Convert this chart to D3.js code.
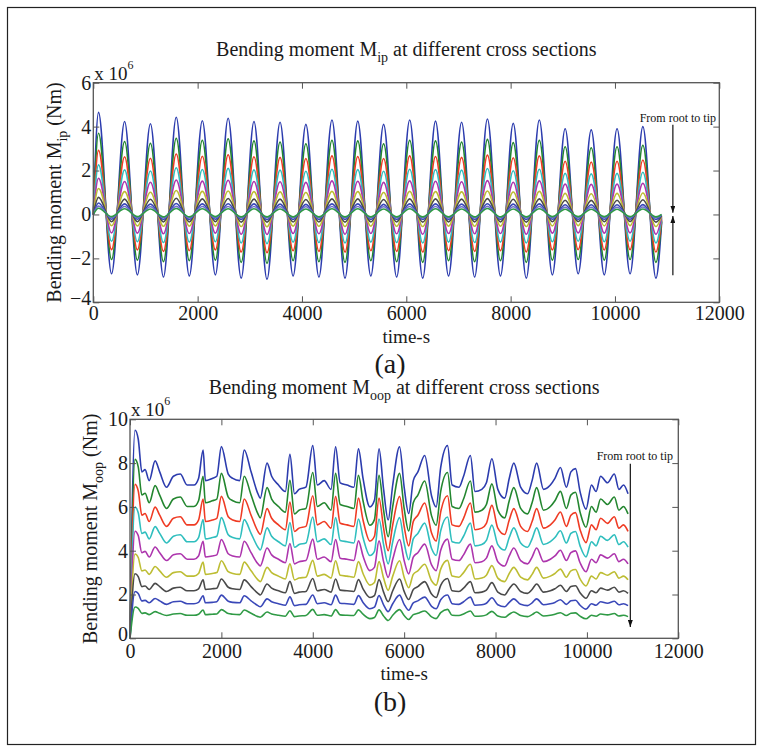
<!DOCTYPE html>
<html>
<head>
<meta charset="utf-8">
<script src="https://cdn.jsdelivr.net/npm/d3@7"></script>
<style>
  body { margin: 0; background: #fff; }
  svg { display: block; }
</style>
</head>
<body>
<div id="chart"></div>
<script>
// ---------- (a) in-plane bending moment, x 10^6 Nm ----------
// sample times: start, then peak / trough pairs, then end
const timeA = [0, 100, 350, 600, 845, 1095, 1345, 1590, 1840, 2090, 2340, 2585, 2835, 3080, 3330,
  3580, 3830, 4075, 4325, 4575, 4825, 5070, 5320, 5565, 5815, 6065, 6315, 6560, 6810, 7060, 7310,
  7555, 7805, 8050, 8300, 8550, 8800, 9045, 9295, 9545, 9795, 10040, 10290, 10535, 10785, 10895];

const mip1 = [0, 4.65, -2.7, 4.23, -2.75, 4.13, -2.85, 4.43, -2.8, 4.27, -2.75, 4.38, -2.9, 4.23, -2.95,
  4.2, -2.8, 4.1, -2.85, 4.3, -2.9, 4.25, -2.8, 4.1, -2.85, 4.3, -2.9, 4.25, -2.8, 4.2, -2.85,
  4.35, -2.8, 4.15, -2.9, 4.3, -2.75, 3.9, -2.7, 3.85, -2.75, 3.9, -2.7, 4.0, -2.9, -0.35];
const mip2 = [0, 3.7, -2.05, 3.32, -2.08, 3.24, -2.15, 3.47, -2.1, 3.38, -2.08, 3.45, -2.18, 3.35, -2.22,
  3.3, -2.1, 3.22, -2.15, 3.38, -2.18, 3.35, -2.1, 3.22, -2.15, 3.38, -2.18, 3.35, -2.1, 3.3, -2.15,
  3.42, -2.1, 3.27, -2.18, 3.38, -2.08, 3.08, -2.05, 3.04, -2.08, 3.08, -2.05, 3.15, -2.18, -0.28];
const mip3 = [0, 2.92, -1.6, 2.63, -1.62, 2.56, -1.68, 2.75, -1.65, 2.65, -1.62, 2.72, -1.71, 2.63, -1.74,
  2.6, -1.65, 2.55, -1.68, 2.67, -1.71, 2.64, -1.65, 2.55, -1.68, 2.67, -1.71, 2.64, -1.65, 2.6, -1.68,
  2.7, -1.65, 2.58, -1.71, 2.67, -1.62, 2.42, -1.6, 2.39, -1.62, 2.42, -1.6, 2.48, -1.71, -0.22];
const mip4 = [0, 2.26, -1.22, 2.03, -1.24, 1.98, -1.28, 2.13, -1.26, 2.05, -1.24, 2.1, -1.3, 2.03, -1.33,
  2.02, -1.26, 1.97, -1.28, 2.06, -1.3, 2.04, -1.26, 1.97, -1.28, 2.06, -1.3, 2.04, -1.26, 2.02, -1.28,
  2.09, -1.26, 1.99, -1.3, 2.06, -1.24, 1.87, -1.22, 1.85, -1.24, 1.87, -1.22, 1.92, -1.3, -0.17];
const mip5 = [0, 1.65, -0.84, 1.5, -0.85, 1.47, -0.88, 1.57, -0.87, 1.52, -0.85, 1.56, -0.9, 1.5, -0.91,
  1.49, -0.87, 1.46, -0.88, 1.53, -0.9, 1.51, -0.87, 1.46, -0.88, 1.53, -0.9, 1.51, -0.87, 1.49, -0.88,
  1.54, -0.87, 1.47, -0.9, 1.53, -0.85, 1.38, -0.84, 1.37, -0.85, 1.38, -0.84, 1.42, -0.9, -0.12];
const mip6 = [0, 1.18, -0.51, 1.04, -0.52, 1.01, -0.54, 1.09, -0.53, 1.05, -0.52, 1.07, -0.55, 1.04, -0.56,
  1.03, -0.53, 1.0, -0.54, 1.05, -0.55, 1.04, -0.53, 1.0, -0.54, 1.05, -0.55, 1.04, -0.53, 1.03, -0.54,
  1.07, -0.53, 1.02, -0.55, 1.05, -0.52, 0.96, -0.51, 0.94, -0.52, 0.96, -0.51, 0.98, -0.55, -0.08];
const mip7 = [0, 0.78, -0.33, 0.7, -0.33, 0.69, -0.34, 0.74, -0.34, 0.71, -0.33, 0.73, -0.35, 0.7, -0.35,
  0.7, -0.34, 0.68, -0.34, 0.71, -0.35, 0.71, -0.34, 0.68, -0.34, 0.71, -0.35, 0.71, -0.34, 0.7, -0.34,
  0.72, -0.34, 0.69, -0.35, 0.71, -0.33, 0.65, -0.32, 0.64, -0.33, 0.65, -0.32, 0.67, -0.35, -0.05];
const mip8 = [0, 0.52, -0.22, 0.48, -0.22, 0.47, -0.23, 0.5, -0.23, 0.48, -0.22, 0.49, -0.23, 0.48, -0.24,
  0.47, -0.23, 0.46, -0.23, 0.48, -0.23, 0.48, -0.23, 0.46, -0.23, 0.48, -0.23, 0.48, -0.23, 0.47, -0.23,
  0.49, -0.23, 0.47, -0.23, 0.48, -0.22, 0.44, -0.22, 0.44, -0.22, 0.44, -0.22, 0.45, -0.23, -0.03];
const mip9 = [0, 0.38, -0.15, 0.36, -0.15, 0.35, -0.16, 0.37, -0.16, 0.36, -0.15, 0.36, -0.16, 0.36, -0.16,
  0.35, -0.16, 0.35, -0.16, 0.36, -0.16, 0.36, -0.16, 0.35, -0.16, 0.36, -0.16, 0.36, -0.16, 0.35, -0.16,
  0.37, -0.16, 0.35, -0.16, 0.36, -0.15, 0.33, -0.15, 0.33, -0.15, 0.33, -0.15, 0.34, -0.16, -0.02];
const mip10 = [0, 0.28, -0.1, 0.26, -0.1, 0.25, -0.11, 0.27, -0.11, 0.26, -0.1, 0.26, -0.11, 0.26, -0.11,
  0.25, -0.11, 0.25, -0.11, 0.26, -0.11, 0.26, -0.11, 0.25, -0.11, 0.26, -0.11, 0.26, -0.11, 0.25, -0.11,
  0.27, -0.11, 0.25, -0.11, 0.26, -0.1, 0.24, -0.1, 0.24, -0.1, 0.24, -0.1, 0.25, -0.11, 0.0];

// ---------- (b) out-of-plane bending moment, x 10^6 Nm ----------
const timeB = [0, 110, 180, 260, 330, 420, 550, 650, 800, 950,
  1100, 1250, 1400, 1500, 1600, 1650, 1800, 1900, 2000, 2150,
  2250, 2400, 2500, 2650, 2800, 2850, 3000, 3100, 3250, 3400,
  3500, 3600, 3700, 3850, 4000, 4100, 4250, 4400, 4500, 4600,
  4750, 4900, 5000, 5100, 5250, 5350, 5450, 5550, 5650, 5750,
  5900, 6000, 6100, 6200, 6300, 6450, 6600, 6700, 6800, 6950,
  7050, 7200, 7300, 7450, 7550, 7700, 7800, 7920, 8050, 8200,
  8300, 8400, 8550, 8700, 8800, 8900, 9050, 9200, 9300, 9420,
  9550, 9650, 9750, 9850, 9980, 10100, 10200, 10300, 10450, 10600,
  10700, 10800, 10900];

const moop1 = [0, 9.5, 9.1, 7.6, 7.7, 7.2, 8.1, 7.6, 6.9, 7.4,
  7.5, 7.0, 7.0, 7.3, 8.6, 7.2, 7.3, 7.4, 8.75, 7.5,
  7.3, 7.2, 8.6, 7.6, 6.6, 6.4, 8.0, 7.4, 7.0, 6.7,
  8.4, 6.6, 6.8, 6.9, 8.8, 7.0, 7.2, 6.8, 8.75, 7.1,
  7.0, 6.9, 8.65, 7.3, 6.0, 6.3, 8.65, 6.8, 5.4, 7.0,
  8.75, 6.9, 5.7, 7.2, 7.6, 8.35, 6.5, 6.0, 7.8, 8.8,
  7.0, 6.9, 7.4, 8.35, 6.7, 6.8, 7.1, 8.2, 6.8, 6.4,
  7.3, 8.0, 6.9, 6.6, 7.2, 8.0, 6.8, 7.0, 7.3, 7.8,
  6.9, 7.6, 7.75, 6.7, 5.9, 7.0, 6.7, 7.4, 7.1, 7.5,
  6.8, 7.0, 6.6];
const moop2 = [0, 8.17, 7.83, 6.54, 6.62, 6.19, 6.97, 6.54, 5.93, 6.36,
  6.45, 6.02, 6.02, 6.28, 7.40, 6.19, 6.28, 6.36, 7.53, 6.45,
  6.28, 6.19, 7.40, 6.54, 5.68, 5.50, 6.88, 6.36, 6.02, 5.76,
  7.22, 5.68, 5.85, 5.93, 7.57, 6.02, 6.19, 5.85, 7.53, 6.11,
  6.02, 5.93, 7.44, 6.28, 5.16, 5.42, 7.44, 5.85, 4.64, 6.02,
  7.53, 5.93, 4.90, 6.19, 6.54, 7.18, 5.59, 5.16, 6.71, 7.57,
  6.02, 5.93, 6.36, 7.18, 5.76, 5.85, 6.11, 7.05, 5.85, 5.50,
  6.28, 6.88, 5.93, 5.68, 6.19, 6.88, 5.85, 6.02, 6.28, 6.71,
  5.93, 6.54, 6.67, 5.76, 5.07, 6.02, 5.76, 6.36, 6.11, 6.45,
  5.85, 6.02, 5.68];
const moop3 = [0, 7.03, 6.73, 5.62, 5.70, 5.33, 5.99, 5.62, 5.11, 5.48,
  5.55, 5.18, 5.18, 5.40, 6.36, 5.33, 5.40, 5.48, 6.48, 5.55,
  5.40, 5.33, 6.36, 5.62, 4.88, 4.74, 5.92, 5.48, 5.18, 4.96,
  6.22, 4.88, 5.03, 5.11, 6.51, 5.18, 5.33, 5.03, 6.48, 5.25,
  5.18, 5.11, 6.40, 5.40, 4.44, 4.66, 6.40, 5.03, 4.00, 5.18,
  6.48, 5.11, 4.22, 5.33, 5.62, 6.18, 4.81, 4.44, 5.77, 6.51,
  5.18, 5.11, 5.48, 6.18, 4.96, 5.03, 5.25, 6.07, 5.03, 4.74,
  5.40, 5.92, 5.11, 4.88, 5.33, 5.92, 5.03, 5.18, 5.40, 5.77,
  5.11, 5.62, 5.74, 4.96, 4.37, 5.18, 4.96, 5.48, 5.25, 5.55,
  5.03, 5.18, 4.88];
const moop4 = [0, 5.99, 5.73, 4.79, 4.85, 4.54, 5.10, 4.79, 4.35, 4.66,
  4.73, 4.41, 4.41, 4.60, 5.42, 4.54, 4.60, 4.66, 5.51, 4.73,
  4.60, 4.54, 5.42, 4.79, 4.16, 4.03, 5.04, 4.66, 4.41, 4.22,
  5.29, 4.16, 4.28, 4.35, 5.54, 4.41, 4.54, 4.28, 5.51, 4.47,
  4.41, 4.35, 5.45, 4.60, 3.78, 3.97, 5.45, 4.28, 3.40, 4.41,
  5.51, 4.35, 3.59, 4.54, 4.79, 5.26, 4.10, 3.78, 4.91, 5.54,
  4.41, 4.35, 4.66, 5.26, 4.22, 4.28, 4.47, 5.17, 4.28, 4.03,
  4.60, 5.04, 4.35, 4.16, 4.54, 5.04, 4.28, 4.41, 4.60, 4.91,
  4.35, 4.79, 4.88, 4.22, 3.72, 4.41, 4.22, 4.66, 4.47, 4.73,
  4.28, 4.41, 4.16];
const moop5 = [0, 4.89, 4.69, 3.91, 3.97, 3.71, 4.17, 3.91, 3.55, 3.81,
  3.86, 3.61, 3.61, 3.76, 4.43, 3.71, 3.76, 3.81, 4.51, 3.86,
  3.76, 3.71, 4.43, 3.91, 3.40, 3.30, 4.12, 3.81, 3.61, 3.45,
  4.33, 3.40, 3.50, 3.55, 4.53, 3.61, 3.71, 3.50, 4.51, 3.66,
  3.61, 3.55, 4.45, 3.76, 3.09, 3.24, 4.45, 3.50, 2.78, 3.61,
  4.51, 3.55, 2.94, 3.71, 3.91, 4.30, 3.35, 3.09, 4.02, 4.53,
  3.61, 3.55, 3.81, 4.30, 3.45, 3.50, 3.66, 4.22, 3.50, 3.30,
  3.76, 4.12, 3.55, 3.40, 3.71, 4.12, 3.50, 3.61, 3.76, 4.02,
  3.55, 3.91, 3.99, 3.45, 3.04, 3.61, 3.45, 3.81, 3.66, 3.86,
  3.50, 3.61, 3.40];
const moop6 = [0, 3.85, 3.69, 3.08, 3.12, 2.92, 3.28, 3.08, 2.79, 3.00,
  3.04, 2.84, 2.84, 2.96, 3.48, 2.92, 2.96, 3.00, 3.54, 3.04,
  2.96, 2.92, 3.48, 3.08, 2.67, 2.59, 3.24, 3.00, 2.84, 2.71,
  3.40, 2.67, 2.75, 2.79, 3.56, 2.84, 2.92, 2.75, 3.54, 2.88,
  2.84, 2.79, 3.50, 2.96, 2.43, 2.55, 3.50, 2.75, 2.19, 2.84,
  3.54, 2.79, 2.31, 2.92, 3.08, 3.38, 2.63, 2.43, 3.16, 3.56,
  2.84, 2.79, 3.00, 3.38, 2.71, 2.75, 2.88, 3.32, 2.75, 2.59,
  2.96, 3.24, 2.79, 2.67, 2.92, 3.24, 2.75, 2.84, 2.96, 3.16,
  2.79, 3.08, 3.14, 2.71, 2.39, 2.84, 2.71, 3.00, 2.88, 3.04,
  2.75, 2.84, 2.67];
const moop7 = [0, 2.95, 2.82, 2.36, 2.39, 2.23, 2.51, 2.36, 2.14, 2.29,
  2.33, 2.17, 2.17, 2.26, 2.67, 2.23, 2.26, 2.29, 2.71, 2.33,
  2.26, 2.23, 2.67, 2.36, 2.05, 1.98, 2.48, 2.29, 2.17, 2.08,
  2.60, 2.05, 2.11, 2.14, 2.73, 2.17, 2.23, 2.11, 2.71, 2.20,
  2.17, 2.14, 2.68, 2.26, 1.86, 1.95, 2.68, 2.11, 1.67, 2.17,
  2.71, 2.14, 1.77, 2.23, 2.36, 2.59, 2.02, 1.86, 2.42, 2.73,
  2.17, 2.14, 2.29, 2.59, 2.08, 2.11, 2.20, 2.54, 2.11, 1.98,
  2.26, 2.48, 2.14, 2.05, 2.23, 2.48, 2.11, 2.17, 2.26, 2.42,
  2.14, 2.36, 2.40, 2.08, 1.83, 2.17, 2.08, 2.29, 2.20, 2.33,
  2.11, 2.17, 2.05];
const moop8 = [0, 2.14, 2.05, 1.71, 1.73, 1.62, 1.82, 1.71, 1.55, 1.67,
  1.69, 1.58, 1.58, 1.64, 1.94, 1.62, 1.64, 1.67, 1.97, 1.69,
  1.64, 1.62, 1.94, 1.71, 1.49, 1.44, 1.80, 1.67, 1.58, 1.51,
  1.89, 1.49, 1.53, 1.55, 1.98, 1.58, 1.62, 1.53, 1.97, 1.60,
  1.58, 1.55, 1.95, 1.64, 1.35, 1.42, 1.95, 1.53, 1.22, 1.58,
  1.97, 1.55, 1.28, 1.62, 1.71, 1.88, 1.46, 1.35, 1.76, 1.98,
  1.58, 1.55, 1.67, 1.88, 1.51, 1.53, 1.60, 1.85, 1.53, 1.44,
  1.64, 1.80, 1.55, 1.49, 1.62, 1.80, 1.53, 1.58, 1.64, 1.76,
  1.55, 1.71, 1.74, 1.51, 1.33, 1.58, 1.51, 1.67, 1.60, 1.69,
  1.53, 1.58, 1.49];
const moop9 = [0, 1.43, 1.37, 1.14, 1.16, 1.08, 1.22, 1.14, 1.04, 1.11,
  1.13, 1.05, 1.05, 1.10, 1.29, 1.08, 1.10, 1.11, 1.31, 1.13,
  1.10, 1.08, 1.29, 1.14, 0.99, 0.96, 1.20, 1.11, 1.05, 1.01,
  1.26, 0.99, 1.02, 1.04, 1.32, 1.05, 1.08, 1.02, 1.31, 1.07,
  1.05, 1.04, 1.30, 1.10, 0.90, 0.95, 1.30, 1.02, 0.81, 1.05,
  1.31, 1.04, 0.86, 1.08, 1.14, 1.25, 0.98, 0.90, 1.17, 1.32,
  1.05, 1.04, 1.11, 1.25, 1.01, 1.02, 1.07, 1.23, 1.02, 0.96,
  1.10, 1.20, 1.04, 0.99, 1.08, 1.20, 1.02, 1.05, 1.10, 1.17,
  1.04, 1.14, 1.16, 1.01, 0.89, 1.05, 1.01, 1.11, 1.07, 1.13,
  1.02, 1.05, 0.99];

// ticks
const xTicks = [0, 2000, 4000, 6000, 8000, 10000, 12000];
const yTicksA = [-4, -2, 0, 2, 4, 6];
const yTicksB = [0, 2, 4, 6, 8, 10];

const colorsA = ["#2c3cae", "#23862f", "#ef3b24", "#2fbebe", "#ad35ad", "#bdbd33", "#4a4a4a", "#3a48b8", "#6f6fcc", "#2f9a45"];
const colorsB = ["#2c3cae", "#23862f", "#ef3b24", "#2fbebe", "#ad35ad", "#bdbd33", "#4a4a4a", "#3a48b8", "#2f9a45"];

const FONT = '"Liberation Serif", "Times New Roman", serif';
const width = 763;
const height = 752;

const svg = d3.select("#chart")
  .append("svg")
  .attr("width", width)
  .attr("height", height)
  .style("font-family", FONT);

// outer frame of the figure
svg.append("rect")
  .attr("x", 7.5).attr("y", 7.5)
  .attr("width", 748).attr("height", 737)
  .attr("fill", "none")
  .attr("stroke", "#222")
  .attr("stroke-width", 1.2);

// arrow head
svg.append("defs").append("marker")
  .attr("id", "head")
  .attr("viewBox", "0 0 7 5")
  .attr("refX", 7).attr("refY", 2.5)
  .attr("markerUnits", "userSpaceOnUse")
  .attr("markerWidth", 7).attr("markerHeight", 5)
  .attr("orient", "auto")
  .append("path")
  .attr("d", "M0,0L7,2.5L0,5Z")
  .attr("fill", "#111");

function styleAxis(g) {
  g.select(".domain").remove();
  g.selectAll(".tick line").attr("stroke", "#555").attr("stroke-width", 1);
  g.selectAll(".tick text")
    .attr("font-family", FONT)
    .attr("font-size", 20)
    .attr("fill", "#1a1a1a");
}

function drawPanel(p) {
  const x = d3.scaleLinear().domain([0, 12000]).range([p.left, p.right]);
  const y = d3.scaleLinear().domain(p.yDomain).range([p.bottom, p.top]);
  const g = svg.append("g");

  // series lines
  const line = d3.line()
    .defined(d => d[1] != null)
    .x(d => x(d[0]))
    .y(d => y(d[1]))
    .curve(d3.curveMonotoneX);

  g.append("g")
    .selectAll("path")
    .data(p.series)
    .join("path")
    .attr("d", s => line(p.times.map((t, i) => [t, s[i]])))
    .attr("fill", "none")
    .attr("stroke", (s, i) => p.colors[i])
    .attr("stroke-width", 1.6)
    .attr("stroke-linejoin", "round");

  // axes, ticks pointing inwards on all four sides
  g.append("g")
    .attr("transform", `translate(0,${p.bottom})`)
    .call(d3.axisBottom(x).tickValues(xTicks).tickSize(-6).tickPadding(p.xPad).tickFormat(d3.format("d")))
    .call(styleAxis);
  g.append("g")
    .attr("transform", `translate(0,${p.top})`)
    .call(d3.axisTop(x).tickValues(xTicks).tickSize(-6).tickFormat(""))
    .call(styleAxis);
  const yAxis = g.append("g")
    .attr("transform", `translate(${p.left},0)`)
    .call(d3.axisLeft(y).tickValues(p.yTicks).tickSize(-6).tickPadding(2).tickFormat(d3.format("d")))
    .call(styleAxis);
  // lowest y label sits a little higher so it clears the x "0"
  yAxis.selectAll(".tick text").filter(d => d === p.yDomain[0]).attr("dy", "0.1em");
  g.append("g")
    .attr("transform", `translate(${p.right},0)`)
    .call(d3.axisRight(y).tickValues(p.yTicks).tickSize(-6).tickFormat(""))
    .call(styleAxis);

  g.append("rect")
    .attr("x", p.left).attr("y", p.top)
    .attr("width", p.right - p.left).attr("height", p.bottom - p.top)
    .attr("fill", "none")
    .attr("stroke", "#555")
    .attr("stroke-width", 1.3);

  // exponent
  const ex = g.append("text")
    .attr("x", p.left + 1).attr("y", p.top - 3)
    .attr("font-size", 19)
    .attr("fill", "#1a1a1a")
    .text("x 10");
  ex.append("tspan").attr("dy", -11).attr("font-size", 12).text("6");

  // title
  const cx = (p.left + p.right) / 2;
  const title = g.append("text")
    .attr("x", cx).attr("y", p.titleY)
    .attr("text-anchor", "middle")
    .attr("font-size", 20)
    .attr("fill", "#1a1a1a");
  title.append("tspan").text("Bending moment M");
  title.append("tspan").attr("dy", 6).attr("font-size", 14).text(p.sub);
  title.append("tspan").attr("dy", -6).text(" at different cross sections");

  // y label
  const ym = (p.top + p.bottom) / 2;
  const yl = g.append("text")
    .attr("transform", `translate(${p.ylabelX},${ym}) rotate(-90)`)
    .attr("text-anchor", "middle")
    .attr("font-size", 20)
    .attr("fill", "#1a1a1a");
  yl.append("tspan").text("Bending moment M");
  yl.append("tspan").attr("dy", 6).attr("font-size", 14).text(p.sub);
  yl.append("tspan").attr("dy", -6).text(" (Nm)");

  // x label and panel letter
  g.append("text")
    .attr("x", cx).attr("y", p.xlabelY)
    .attr("text-anchor", "middle")
    .attr("font-size", 19)
    .attr("fill", "#1a1a1a")
    .text("time-s");
  g.append("text")
    .attr("x", 390).attr("y", p.letterY)
    .attr("text-anchor", "middle")
    .attr("font-size", 28)
    .attr("fill", "#1a1a1a")
    .text(p.letter);

  // "From root to tip" annotation
  g.append("text")
    .attr("x", p.noteX).attr("y", p.noteY)
    .attr("text-anchor", "end")
    .attr("font-size", 12)
    .attr("fill", "#111")
    .text("From root to tip");
  p.arrows.forEach(a => {
    g.append("line")
      .attr("x1", x(a[0])).attr("y1", y(a[1]))
      .attr("x2", x(a[0])).attr("y2", y(a[2]))
      .attr("stroke", "#111")
      .attr("stroke-width", 1.2)
      .attr("marker-end", "url(#head)");
  });
}

drawPanel({
  left: 93.3, right: 719.3, top: 82.7, bottom: 302.3,
  yDomain: [-4, 6], yTicks: yTicksA, xPad: 4,
  times: timeA,
  series: [mip1, mip2, mip3, mip4, mip5, mip6, mip7, mip8, mip9, mip10],
  colors: colorsA,
  sub: "ip", titleY: 56, ylabelX: 61,
  xlabelY: 343, letter: "(a)", letterY: 372.5,
  noteX: 716, noteY: 121.5,
  arrows: [[11110, 4.08, 0.08], [11110, -2.77, -0.07]]
});

drawPanel({
  left: 130, right: 678.3, top: 419.3, bottom: 638.3,
  yDomain: [0, 10], yTicks: yTicksB, xPad: 5.5,
  times: timeB,
  series: [moop1, moop2, moop3, moop4, moop5, moop6, moop7, moop8, moop9],
  colors: colorsB,
  sub: "oop", titleY: 394, ylabelX: 97,
  xlabelY: 680, letter: "(b)", letterY: 711,
  noteX: 673, noteY: 460,
  arrows: [[10950, 7.97, 0.52]]
});
</script>
</body>
</html>
